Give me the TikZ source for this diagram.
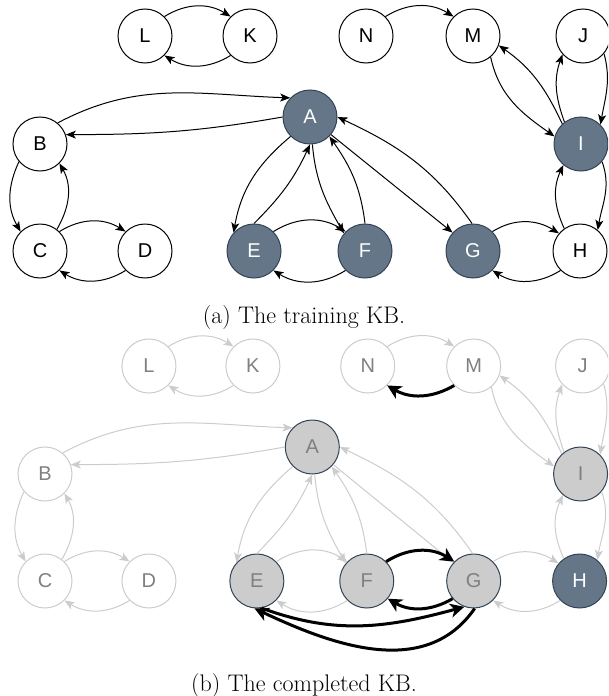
\documentclass[tikz,border=0pt]{standalone}
\usepackage{fontspec}
\newfontfamily\nodefont{Liberation Sans}
\usetikzlibrary{arrows.meta}
\definecolor{darkfill}{HTML}{647687}
\definecolor{darkline}{HTML}{314354}
\definecolor{grayfill}{HTML}{CCCCCC}
\definecolor{fadeline}{HTML}{CCCCCC}
\definecolor{fadetext}{HTML}{808080}
\tikzset{
  kbnode/.style={circle, minimum size=54pt, inner sep=0pt, line width=1pt,
    font=\nodefont\fontsize{20}{24}\selectfont},
  darknode/.style={fill=darkfill, draw=darkline, text=white},
  plainnode/.style={fill=white, draw=black, text=black},
  graynode/.style={fill=grayfill, draw=darkline, text=fadetext},
  fadenode/.style={fill=white, draw=fadeline, text=fadetext},
  tipthin/.style={-{Stealth[length=10pt,width=8pt,inset=2.5pt]}},
  blackedge/.style={draw=black, line width=1pt, tipthin},
  greyedge/.style={draw=fadeline, line width=1pt, tipthin},
  thickedge/.style={draw=black, line width=3pt, -{Stealth[length=14pt,width=14pt,inset=4pt]}},
  caption/.style={font=\fontsize{24}{28}\selectfont, inner sep=0pt}
}
\newcommand\kbgraph{%
  \node[kbnode,grpO] (L) at (145,-36) {L};
  \node[kbnode,grpO] (K) at (250,-36) {K};
  \node[kbnode,grpO] (N) at (366,-36) {N};
  \node[kbnode,grpO] (M) at (473,-36) {M};
  \node[kbnode,grpO] (J) at (583,-36) {J};
  \node[kbnode,grpO] (B) at (40,-144) {B};
  \node[kbnode,grpA] (A) at (310,-117) {A};
  \node[kbnode,grpA] (I) at (581,-144) {I};
  \node[kbnode,grpO] (C) at (40,-251) {C};
  \node[kbnode,grpO] (D) at (145,-251) {D};
  \node[kbnode,grpA] (E) at (254,-251) {E};
  \node[kbnode,grpA] (F) at (365,-251) {F};
  \node[kbnode,grpA] (G) at (473,-251) {G};
  \node[kbnode,grpH] (H) at (580,-251) {H};
  \draw[kbedge] (L.45) to[out=32,in=148] (K.135);
  \draw[kbedge] (K.225) to[out=212,in=328] (L.315);
  \draw[kbedge] (N.45) to[out=32,in=148] (M.135);
  \draw[kbedge] (M.-50) to[out=-78,in=145] (I.164);
  \draw[kbedge] (I.133) to[out=115,in=-35] (M.-20);
  \draw[kbedge] (I.127) to[out=110,in=250] (J.222);
  \draw[kbedge] (J.-40) to[out=-75,in=80] (I.45);
  \draw[kbedge] (I.-40) to[out=-70,in=80] (H.50);
  \draw[kbedge] (H.125) to[out=115,in=245] (I.230);
  \draw[kbedge] (G.45) to[out=32,in=148] (H.140);
  \draw[kbedge] (H.225) to[out=212,in=328] (G.315);
  \draw[kbedge] (E.45) to[out=32,in=148] (F.135);
  \draw[kbedge] (F.225) to[out=212,in=328] (E.315);
  \draw[kbedge] (A.225) to[out=220,in=80] (E.138);
  \draw[kbedge] (E.90) to[out=45,in=245] (A.270);
  \draw[kbedge] (A.275) to[out=-85,in=120] (F.140);
  \draw[kbedge] (F.90) to[out=97,in=-55] (A.-45);
  \draw[kbedge] (G.92) to[out=125,in=-25] (A.0);
  \draw[kbedge] (A.-40) -- (G.138);
  \draw[kbedge] (B.50) to[out=28,in=178] (A.136);
  \draw[kbedge] (A.180) to[out=190,in=0] (B.20);
  \draw[kbedge] (B.220) to[out=245,in=120] (C.135);
  \draw[kbedge] (C.52) to[out=60,in=-60] (B.-45);
  \draw[kbedge] (C.45) to[out=32,in=148] (D.135);
  \draw[kbedge] (D.225) to[out=212,in=328] (C.315);
}
\begin{document}
\begin{tikzpicture}[x=1pt,y=1pt]
  \useasboundingbox (0,0) rectangle (608,-696);
  \clip (0,0) rectangle (608,-696);
  \begin{scope}[grpA/.style={darknode}, grpH/.style={plainnode}, grpO/.style={plainnode},
      kbedge/.style={blackedge}]
    \kbgraph
  \end{scope}
  \node[caption] (capa) at (304,-318) {(a) The training KB.};
  \begin{scope}[shift={(5.4,-330)}, xscale=0.99, name prefix=b-,
      grpA/.style={graynode}, grpH/.style={darknode}, grpO/.style={fadenode},
      kbedge/.style={greyedge}]
    \kbgraph
    \draw[thickedge] (M.225) to[out=210,in=-30] (N.-45);
    \draw[thickedge] (F.45) to[out=32,in=148] (G.135);
    \draw[thickedge] (G.220) to[out=210,in=-30] (F.-40);
    \draw[thickedge] (E.-80) to[out=-20,in=195] (G.250);
    \draw[thickedge] (G.-88) to[out=235,in=-25] (E.-95);
  \end{scope}
  \node[caption] (capb) at (304,-686) {(b) The completed KB.};
\end{tikzpicture}
\end{document}
